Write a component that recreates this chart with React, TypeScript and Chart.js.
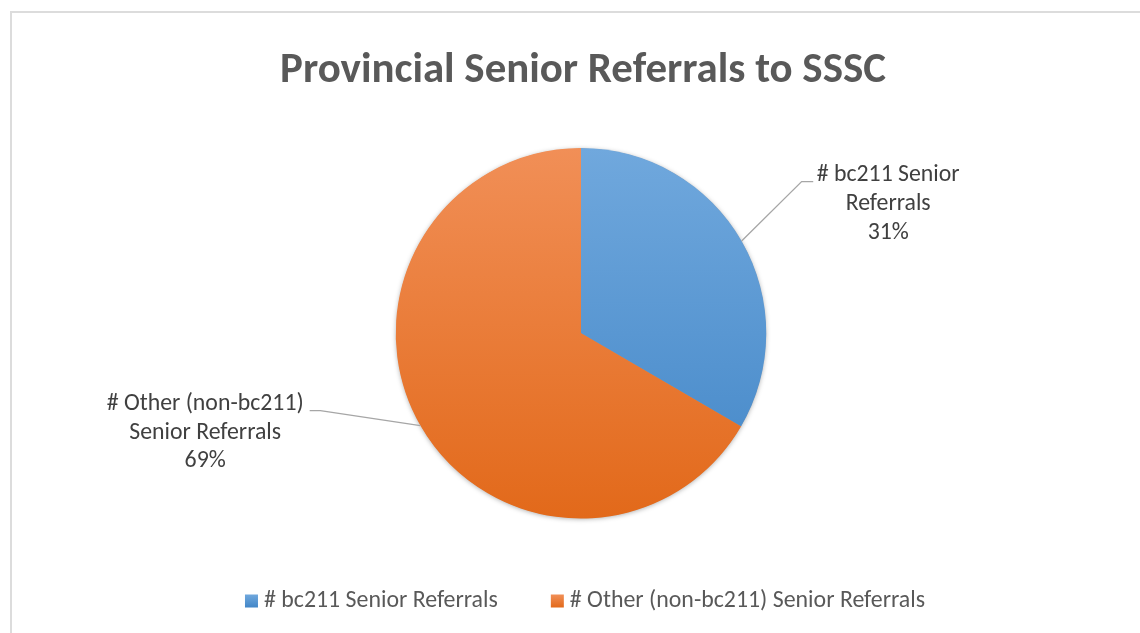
import React, { useEffect, useRef } from "react";
import { Chart, registerables } from "chart.js";

Chart.register(...registerables);

// ---- data ----
const TITLE = "Provincial Senior Referrals to SSSC";
const categories = ["# bc211 Senior Referrals", "# Other (non-bc211) Senior Referrals"];
// slice sizes
const sliceShares = [33.4, 66.6];
// percentage texts as printed on the data labels
const percentLabels = ["31%", "69%"];
const labelLines = [
  ["# bc211 Senior", "Referrals"],
  ["# Other (non-bc211)", "Senior Referrals"],
];

// ---- styles ----
const gradientTop = ["#70a8dd", "#f18f57"];
const gradientBottom = ["#4286c7", "#e2691a"];
const FONT = "Carlito, 'Open Sans', 'Noto Sans', sans-serif";

function fitSize(ctx: CanvasRenderingContext2D, text: string, weight: string, target: number) {
  ctx.font = `${weight} 100px ${FONT}`;
  const w = ctx.measureText(text).width;
  return (100 * target) / w;
}

const decorPlugin = {
  id: "decor",
  beforeDatasetsDraw(chart: any) {
    const meta = chart.getDatasetMeta(0);
    const a = meta.data[0];
    if (!a) return;
    const ctx = chart.ctx as CanvasRenderingContext2D;
    ctx.save();
    ctx.shadowColor = "rgba(0,0,0,0.35)";
    ctx.shadowBlur = 5;
    ctx.shadowOffsetY = 1;
    ctx.beginPath();
    ctx.arc(a.x, a.y, a.outerRadius - 0.5, 0, Math.PI * 2);
    ctx.fillStyle = "#e9843c";
    ctx.fill();
    ctx.restore();
  },
  afterDraw(chart: any) {
    const ctx = chart.ctx as CanvasRenderingContext2D;
    const meta = chart.getDatasetMeta(0);
    ctx.save();

    // title
    const tSize = fitSize(ctx, TITLE, "bold", 606);
    ctx.font = `bold ${tSize}px ${FONT}`;
    ctx.fillStyle = "#595959";
    ctx.textAlign = "center";
    ctx.textBaseline = "alphabetic";
    ctx.fillText(TITLE, 583, 82);

    // data labels with leader lines
    const lSize = fitSize(ctx, labelLines[0][0], "normal", 143);
    const lineH = 28.7;
    const elbowOff = [
      [60, -59.3],
      [-100, -15],
    ];
    const tailLen = [11.6, -10.7];
    meta.data.forEach((arc: any, i: number) => {
      const mid = (arc.startAngle + arc.endAngle) / 2;
      const ex = arc.x + Math.cos(mid) * arc.outerRadius;
      const ey = arc.y + Math.sin(mid) * arc.outerRadius;
      const bx = ex + elbowOff[i][0];
      const by = ey + elbowOff[i][1];
      const tx = bx + tailLen[i];
      ctx.strokeStyle = "#a6a6a6";
      ctx.lineWidth = 1.3;
      ctx.beginPath();
      ctx.moveTo(ex, ey);
      ctx.lineTo(bx, by);
      ctx.lineTo(tx, by);
      ctx.stroke();

      const lines = [...labelLines[i], percentLabels[i]];
      ctx.font = `normal ${lSize}px ${FONT}`;
      const widths = lines.map((l) => ctx.measureText(l).width);
      const maxW = Math.max(...widths);
      const cx = tailLen[i] > 0 ? tx + 3.5 + maxW / 2 : tx - 6 - maxW / 2;
      const y0 = by - 6.5;
      ctx.fillStyle = "#404040";
      ctx.textAlign = "center";
      ctx.textBaseline = "middle";
      lines.forEach((l, k) => ctx.fillText(l, cx, y0 + k * lineH));
    });

    // legend
    const gSize = fitSize(ctx, categories[0], "normal", 234);
    ctx.font = `normal ${gSize}px ${FONT}`;
    const sw = 13;
    const gapSwText = 6;
    const gapItems = 53;
    const tws = categories.map((c) => ctx.measureText(c).width);
    const total = tws.reduce((s, w) => s + w + sw + gapSwText, 0) + gapItems * (categories.length - 1);
    let x = 585 - total / 2;
    const ly = 601;
    categories.forEach((c, i) => {
      const g = ctx.createLinearGradient(0, ly - sw / 2, 0, ly + sw / 2);
      g.addColorStop(0, gradientTop[i]);
      g.addColorStop(1, gradientBottom[i]);
      ctx.fillStyle = g;
      ctx.fillRect(x, ly - sw / 2, sw, sw);
      x += sw + gapSwText;
      ctx.fillStyle = "#595959";
      ctx.textAlign = "left";
      ctx.textBaseline = "middle";
      ctx.fillText(c, x, ly);
      x += tws[i] + gapItems;
    });

    ctx.restore();
  },
};

export default function App() {
  const ref = useRef<HTMLCanvasElement | null>(null);
  useEffect(() => {
    if (!ref.current) return;
    const chart = new Chart(ref.current, {
      type: "pie",
      data: {
        labels: categories,
        datasets: [
          {
            data: sliceShares,
            backgroundColor: (c: any) => {
              const i = c.dataIndex ?? 0;
              const area = c.chart.chartArea;
              if (!area) return gradientBottom[i];
              const g = c.chart.ctx.createLinearGradient(0, area.top, 0, area.bottom);
              g.addColorStop(0, gradientTop[i]);
              g.addColorStop(1, gradientBottom[i]);
              return g;
            },
            borderWidth: 0,
            hoverOffset: 0,
          },
        ],
      },
      options: {
        animation: false,
        responsive: false,
        events: [],
        layout: { padding: { top: 148, bottom: 114.5, left: 300, right: 278 } },
        plugins: {
          legend: { display: false },
          title: { display: false },
          tooltip: { enabled: false },
        },
      },
      plugins: [decorPlugin],
    });
    return () => chart.destroy();
  }, []);

  return (
    <div
      style={{
        position: "fixed",
        left: 0,
        top: 0,
        width: 1140,
        height: 633,
        overflow: "hidden",
        background: "#ffffff",
      }}
    >
      <div
        style={{
          position: "absolute",
          left: 10,
          top: 11,
          width: 1160,
          height: 660,
          border: "2px solid #dcdcdc",
          boxSizing: "border-box",
        }}
      />
      <canvas
        ref={ref}
        width={1140}
        height={633}
        style={{ position: "absolute", left: 0, top: 0, width: 1140, height: 633 }}
      />
    </div>
  );
}
